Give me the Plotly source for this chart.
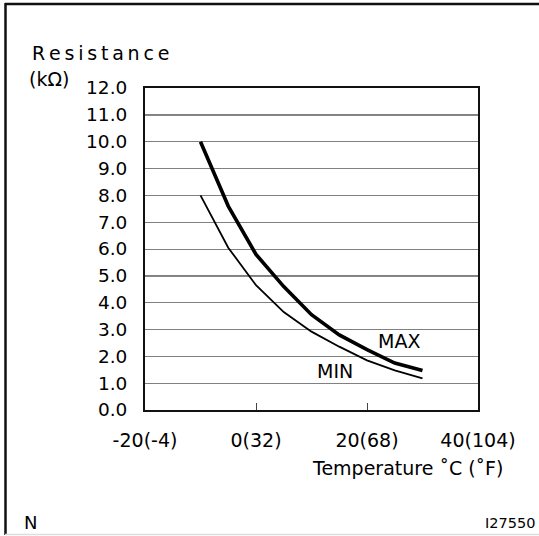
import plotly.graph_objects as go

# temperature (deg C) and resistance (kOhm)
temp_c = [-10, -5, 0, 5, 10, 15, 20, 25, 30]
r_max = [10.0, 7.6, 5.8, 4.6, 3.55, 2.8, 2.25, 1.75, 1.47]
r_min = [8.0, 6.05, 4.65, 3.65, 2.92, 2.36, 1.85, 1.48, 1.18]

x_ticks = [-20, 0, 20, 40]
x_labels = ["-20(-4)", "0(32)", "20(68)", "40(104)"]
y_ticks = [i * 1.0 for i in range(13)]
y_labels = [f"{v:.1f}" for v in y_ticks]
dark_grid = [5, 11]

FONT = "DejaVu Sans"
W, H = 539, 536
L, R, T, B = 145, 61, 88, 126
pw, ph = W - L - R, H - T - B


def px(x):
    return (x - L) / pw


def py(y):
    return (H - B - y) / ph


fig = go.Figure()

fig.add_trace(go.Scatter(
    x=temp_c, y=r_max, mode="lines", name="MAX",
    line=dict(color="black", width=3.6), showlegend=False,
))
fig.add_trace(go.Scatter(
    x=temp_c, y=r_min, mode="lines", name="MIN",
    line=dict(color="black", width=1.8), showlegend=False,
))

for v in dark_grid:
    fig.add_hline(y=v, line=dict(color="#111", width=1.2), layer="below")

fig.add_annotation(x=25.7, y=2.57, text="MAX", showarrow=False,
                   font=dict(family=FONT, size=19, color="black"))
fig.add_annotation(x=14.2, y=1.46, text="MIN", showarrow=False,
                   font=dict(family=FONT, size=19, color="black"))

# texts around the plot area
thin = "\u2009"
fig.add_annotation(xref="paper", yref="paper", x=px(30), y=py(53),
                   xanchor="left", yanchor="middle", showarrow=False,
                   text=thin.join("Resistance"),
                   font=dict(family=FONT, size=19, color="black"))
fig.add_annotation(xref="paper", yref="paper", x=px(27), y=py(79),
                   xanchor="left", yanchor="middle", showarrow=False,
                   text="(kΩ)", font=dict(family=FONT, size=19, color="black"))
fig.add_annotation(xref="paper", yref="paper", x=px(505), y=py(468),
                   xanchor="right", yanchor="middle", showarrow=False,
                   text="Temperature ˚C (˚F)",
                   font=dict(family=FONT, size=19, color="black"))
fig.add_annotation(xref="paper", yref="paper", x=px(22), y=py(522),
                   xanchor="left", yanchor="middle", showarrow=False,
                   text="N", font=dict(family=FONT, size=18, color="black"))
fig.add_annotation(xref="paper", yref="paper", x=px(537), y=py(523),
                   xanchor="right", yanchor="middle", showarrow=False,
                   text="I27550", font=dict(family=FONT, size=14.5, color="black"))

# outer frame
fig.add_shape(type="line", xref="paper", yref="paper",
              x0=px(5), x1=px(539), y0=py(4), y1=py(4),
              line=dict(color="#111", width=2.5))
fig.add_shape(type="line", xref="paper", yref="paper",
              x0=px(5.5), x1=px(5.5), y0=py(3), y1=py(535),
              line=dict(color="#111", width=2.5))
fig.add_shape(type="line", xref="paper", yref="paper",
              x0=px(5), x1=px(539), y0=py(534.5), y1=py(534.5),
              line=dict(color="#ddd", width=1.5))

fig.update_xaxes(
    range=[-20, 40], tickvals=x_ticks, ticktext=x_labels,
    showgrid=False, zeroline=False,
    showline=True, linecolor="#111", linewidth=2, mirror=True,
    ticks="inside", ticklen=7, tickcolor="#444", tickwidth=1.3,
    ticklabelstandoff=12,
    tickfont=dict(family=FONT, size=19, color="black"),
)
fig.update_yaxes(
    range=[0, 12], tickvals=y_ticks, ticktext=y_labels,
    showgrid=True, gridcolor="#808080", gridwidth=1.3, zeroline=False,
    showline=True, linecolor="#111", linewidth=2, mirror=True,
    ticks="", ticklabelstandoff=12,
    tickfont=dict(family=FONT, size=18.5, color="black"),
)

fig.update_layout(
    width=W, height=H,
    margin=dict(l=L, r=R, t=T, b=B),
    paper_bgcolor="white", plot_bgcolor="white",
    showlegend=False,
)

# drop the page's default body margin so the figure sits at the window corner
fig.write_html("out.html",
               config={"displayModeBar": False},
               post_script="document.body.style.margin='0';"
                           "document.body.style.overflow='hidden';")
